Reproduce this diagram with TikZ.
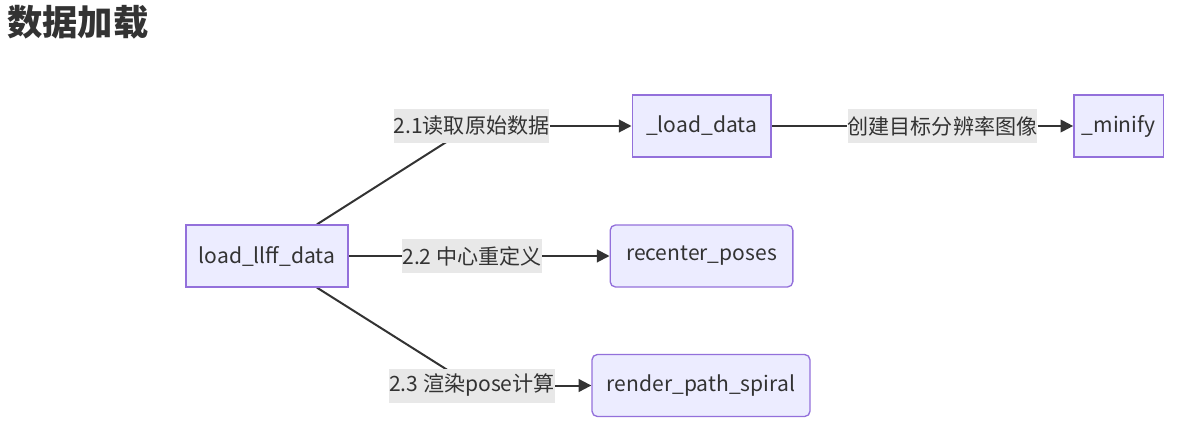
\documentclass[tikz,border=0pt]{standalone}
\usepackage{fontspec}
\setmainfont{Noto Sans CJK SC}
\usetikzlibrary{arrows.meta,backgrounds}
\definecolor{boxfill}{HTML}{ECECFF}
\definecolor{boxline}{HTML}{9370DB}
\definecolor{labelbg}{HTML}{E8E8E8}
\definecolor{ink}{HTML}{333333}

\begin{document}
\begin{tikzpicture}[x=0.75pt,y=-0.75pt,
    link/.style={draw=ink,line width=1.5pt},
    tip/.style={-{Triangle[length=9.5pt,width=9.5pt]}}]
      \useasboundingbox (0,0) rectangle (1192,432);
      \node[anchor=west,inner sep=0pt,font=\fontsize{26.5}{30}\selectfont\bfseries,text=ink] (title) at (7,22) {数据加载};
      \begin{scope}[every node/.style={draw=boxline,fill=boxfill,line width=1pt,
        minimum height=46.5pt,text=ink,font=\fontsize{15.8}{18}\selectfont}]
        \node[minimum width=121.5pt] (llff) at (267,256) {load\_llff\_data};
        \node[minimum width=104pt] (ld) at (701.5,126) {\_load\_data};
        \node[minimum width=67pt] (mn) at (1118.5,126) {\_minify};
        \node[minimum width=137pt,rounded corners=4pt] (rp) at (701.5,256) {recenter\_poses};
        \node[minimum width=163.5pt,rounded corners=4pt] (rs) at (701,385.5) {render\_path\_spiral};
      \end{scope}
      \begin{scope}[every node/.style={fill=labelbg,inner xsep=0pt,
        minimum height=25.5pt,text=ink,font=\fontsize{15.8}{18}\selectfont}]
        \node (e1) at (471.5,126) {2.1读取原始数据};
        \node (e2) at (472,256) {2.2 中心重定义};
        \node (e3) at (472,385.5) {2.3 渲染pose计算};
        \node (e4) at (942.5,126) {创建目标分辨率图像};
      \end{scope}
      \begin{scope}[on background layer]
        \draw[link] ([xshift=37.5pt]llff.north) -- (e1.center);
        \draw[link,tip] (e1) -- (ld);
        \draw[link] (llff) -- (e2);
        \draw[link,tip] (e2) -- (rp);
        \draw[link] ([xshift=37.5pt]llff.south) -- (e3.center);
        \draw[link,tip] (e3) -- (rs);
        \draw[link] (ld) -- (e4);
        \draw[link,tip] (e4) -- (mn);
      \end{scope}
    \end{tikzpicture}
\end{document}
